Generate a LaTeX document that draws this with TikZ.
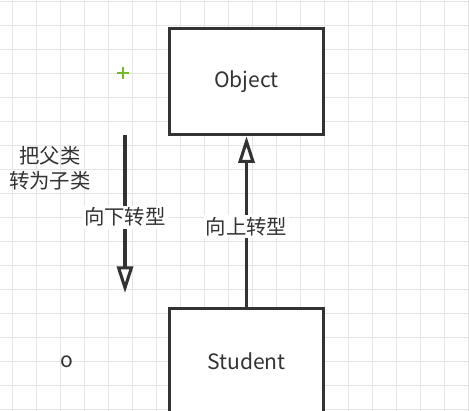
\documentclass[tikz,border=0pt]{standalone}
\usepackage{fontspec}
\setmainfont{Noto Sans CJK SC}
\usetikzlibrary{arrows.meta, positioning}
\definecolor{boxline}{RGB}{51,51,51}
\definecolor{gridgray}{RGB}{228,228,228}
\definecolor{cursorgreen}{RGB}{118,188,40}
\tikzset{
  classbox/.style={rectangle, draw=boxline, fill=white, line width=2.4pt,
    minimum width=3.85cm, minimum height=2.65cm, text=boxline,
    font=\fontsize{15}{18}\selectfont, inner sep=0pt},
  cast/.style={-{Triangle[open, length=19pt, width=11.5pt, line width=2.2pt]},
    line width=2.4pt, color=boxline},
  caption/.style={fill=white, text=boxline, font=\fontsize{14.5}{17}\selectfont,
    inner sep=1.5pt}
}

\begin{document}
\begin{tikzpicture}[x=0.025cm, y=-0.025cm]
    % Page and grid
    \useasboundingbox (0,0) rectangle (469,411);
    \clip (0,0) rectangle (469,411);
    \fill[white] (0,0) rectangle (469,411);
    \foreach \gx in {12,36,...,468}
      \draw[gridgray, line width=0.7pt] (\gx,0) -- (\gx,411);
    \foreach \gy in {1,25,...,409}
      \draw[gridgray, line width=0.7pt] (0,\gy) -- (469,\gy);
    % Classes
    \node[classbox] (obj) at (246.5,81.5) {\raisebox{-2pt}{Object}};
    \node[classbox] (stu) at (246.5,361.5) {Student};
    % Upcast
    \draw[cast] (stu.north) -- (obj.south)
      node[caption, pos=0.47] (upcast) {向上转型};
    % Downcast
    \coordinate (dtop) at (125,135);
    \coordinate (dbot) at (125,293);
    \draw[cast] (dtop) -- (dbot)
      node[caption, pos=0.52] (downcast) {向下转型};
    % Notes
    \node[text=boxline, align=center, font=\fontsize{14.5}{18}\selectfont]
      (note) at (50,168) {把父类\\转为子类};
    \node[text=boxline, font=\fontsize{15}{17}\selectfont] (dot) at (67,362) {o};
    % Move cursor
    \draw[cursorgreen, line width=1.8pt] (117,73) -- (129,73) (123,67) -- (123,79);
\end{tikzpicture}
\end{document}
